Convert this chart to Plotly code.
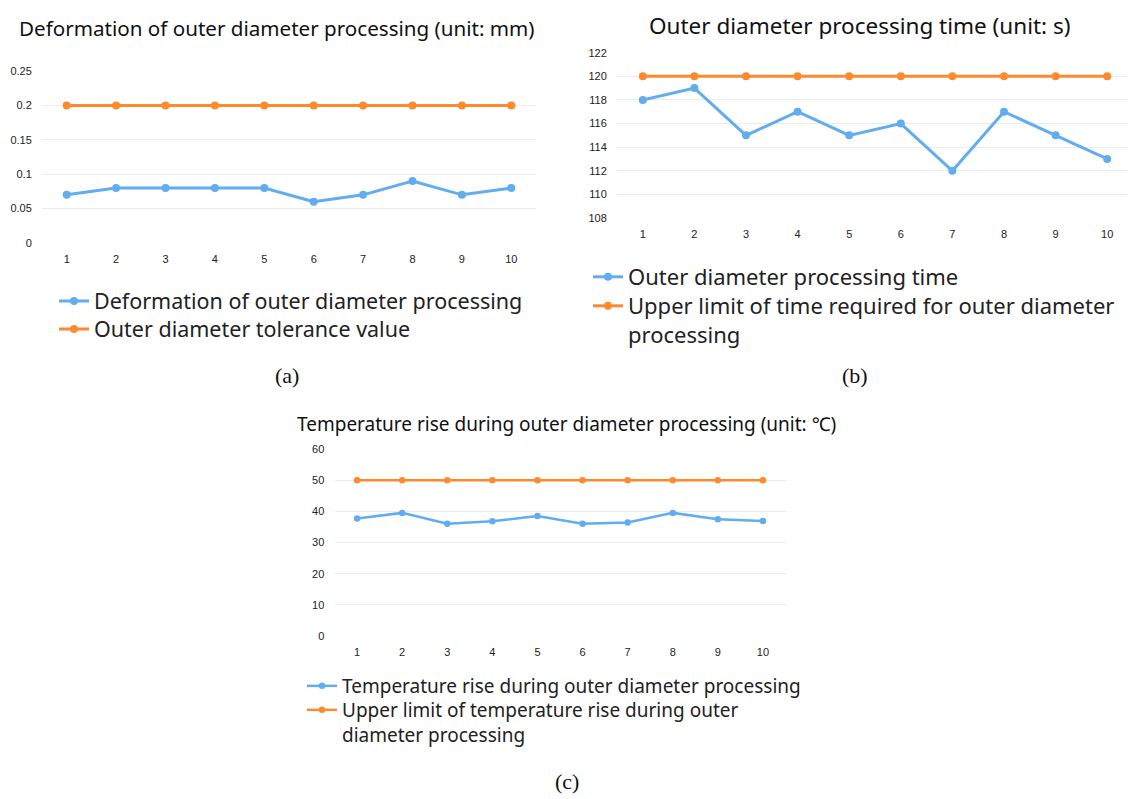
import plotly.graph_objects as go

W, H = 1135, 799
OFF = 8  # page body margin offset compensation

cats = [str(i) for i in range(1, 11)]

# (a) deformation (mm)
deform = [0.07, 0.08, 0.08, 0.08, 0.08, 0.06, 0.07, 0.09, 0.07, 0.08]
tolerance = [0.2] * 10

# (b) processing time (s)
proc_time = [118, 119, 115, 117, 115, 116, 112, 117, 115, 113]
time_limit = [120] * 10

# (c) temperature rise (°C)
temp_rise = [37.7, 39.5, 36.0, 36.8, 38.5, 36.0, 36.4, 39.5, 37.5, 36.9]
temp_limit = [50] * 10

BLUE = "#62acf0"
ORANGE = "#fd8a2f"
GRID = "#ececec"
SANS = "Noto Sans, Open Sans, sans-serif"
SERIF = "Liberation Serif, DejaVu Serif, serif"
TICKFONT = dict(family="Liberation Sans, Arial, sans-serif", size=11, color="#222")


def px_x(p):
    return (p - OFF) / W


def px_y(p):
    return 1 - (p - OFF) / H


fig = go.Figure()

panels = [
    dict(xa="x", ya="y", xd=(42, 536), yd=(243, 71), yr=[0, 0.25], dt=0.05,
         series=[("Deformation of outer diameter processing", deform, BLUE, "legend", 54, 301),
                 ("Outer diameter tolerance value", tolerance, ORANGE, "legend2", 54, 329)],
         fs=21.5, lw=3, ms=8),
    dict(xa="x2", ya="y2", xd=(617, 1133), yd=(218, 52.7), yr=[108, 122], dt=2,
         series=[("Outer diameter processing time", proc_time, BLUE, "legend3", 588, 277),
                 ("Upper limit of time required for outer diameter<br>processing", time_limit, ORANGE,
                  "legend4", 588, 320.5)],
         fs=22, lw=3, ms=8),
    dict(xa="x3", ya="y3", xd=(334.5, 785.5), yd=(636, 449), yr=[0, 60], dt=10,
         series=[("Temperature rise during outer diameter processing", temp_rise, BLUE, "legend5", 302, 686),
                 ("Upper limit of temperature rise during outer<br>diameter processing", temp_limit, ORANGE,
                  "legend6", 302, 722.5)],
         fs=19, lw=2.5, ms=6.5),
]

layout_extra = {}
for p in panels:
    for name, vals, col, lg, lx, ly in p["series"]:
        fig.add_trace(go.Scatter(
            x=cats, y=vals, name=name, mode="lines+markers",
            line=dict(color=col, width=p["lw"]), marker=dict(color=col, size=p["ms"]),
            xaxis=p["xa"], yaxis=p["ya"], legend=lg))
        layout_extra[lg] = dict(
            x=px_x(lx), y=px_y(ly), xanchor="left", yanchor="middle",
            bgcolor="rgba(0,0,0,0)", itemwidth=30, valign="top",
            font=dict(family=SANS, size=p["fs"], color="#222"))
    xkey = "xaxis" if p["xa"] == "x" else "xaxis" + p["xa"][1:]
    ykey = "yaxis" if p["ya"] == "y" else "yaxis" + p["ya"][1:]
    layout_extra[xkey] = dict(
        domain=[px_x(p["xd"][0]), px_x(p["xd"][1])], anchor=p["ya"], type="category",
        range=[-0.5, 9.5], automargin=False,
        showgrid=False, showline=False, zeroline=False,
        ticks="outside", ticklen=6, tickcolor="rgba(0,0,0,0)", tickfont=TICKFONT)
    layout_extra[ykey] = dict(
        domain=[px_y(p["yd"][0]), px_y(p["yd"][1])], anchor=p["xa"], range=p["yr"], dtick=p["dt"],
        automargin=False,
        showgrid=True, gridcolor=GRID, gridwidth=1, showline=False, zeroline=False,
        ticks="outside", ticklen=7, tickcolor="rgba(0,0,0,0)", tickfont=TICKFONT)

fig.update_layout(
    width=W, height=H,
    margin=dict(l=0, r=0, t=0, b=0, autoexpand=False),
    paper_bgcolor="white", plot_bgcolor="white",
    showlegend=True,
    **layout_extra,
)

annots = [
    ("Deformation of outer diameter processing (unit: mm)", 276.5, 28, 20.6, SANS, "middle"),
    ("Outer diameter processing time (unit: s)", 860, OFF, 22.5, SANS, "top"),
    ("Temperature rise during outer diameter processing (unit: ℃)", 566.5, 424, 19, SANS, "middle"),
    ("(a)", 287, 376, 22, SERIF, "middle"),
    ("(b)", 855, 376, 22, SERIF, "middle"),
    ("(c)", 567, 781, 22, SERIF, "middle"),
]
for text, x, y, size, fam, ya in annots:
    fig.add_annotation(text=text, x=px_x(x), y=px_y(y), xref="paper", yref="paper",
                       xanchor="center", yanchor=ya, showarrow=False,
                       font=dict(family=fam, size=size, color="#111"))

fig.write_html("out.html")
